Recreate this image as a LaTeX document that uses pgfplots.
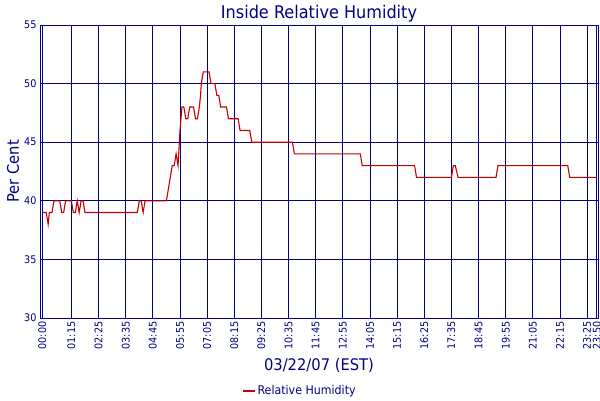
\documentclass[border=0pt]{standalone}
\usepackage{fontspec}
\setmainfont{DejaVu Sans}[FakeStretch=0.92]
\usepackage{pgfplots}
\pgfplotsset{compat=1.18}
\definecolor{navy}{RGB}{0,0,128}
\definecolor{rhred}{RGB}{196,0,0}

\begin{document}
\begin{tikzpicture}
\useasboundingbox (-40pt,-82pt) rectangle (560pt,318pt);
\begin{axis}[
    scale only axis,
    width=558pt, height=293pt,
    xmin=-6, xmax=1433,
    ymin=30, ymax=55,
    ytick={30,35,40,45,50,55},
    xtick={0,75,145,215,285,355,425,495,565,635,705,775,845,915,985,1055,1125,1195,1265,1335,1405,1430},
    xticklabels={00:00,01:15,02:25,03:35,04:45,05:55,07:05,08:15,09:25,10:35,11:45,12:55,14:05,15:15,16:25,17:35,18:45,19:55,21:05,22:15,23:25,23:50},
    grid=major,
    grid style={navy, line width=0.9pt},
    axis line style={navy, line width=0.9pt},
    major tick length=0pt,
    /pgf/number format/assume math mode=true,
    tick label style={font=\fontsize{10.5}{12}\selectfont, text=navy},
    xticklabel style={rotate=90, anchor=east},
    legend style={at={(axis description cs:0.466,-0.249)}, anchor=center,
        draw=none, fill=none, font=\fontsize{12}{14}\selectfont, text=navy},
    legend image code/.code={\draw[#1] (0pt,0pt) -- (12pt,0pt);},
]
\addplot[rhred, line width=1.1pt] coordinates {
(0,39) (10,39) (15,38) (18,39) (25,39) (30,40) (45,40) (50,39) (55,39) (60,40)
(75,40) (80,39) (85,39) (90,40) (95,39) (100,40) (105,40) (110,39) (245,39)
(250,40) (255,40) (260,39) (265,40) (320,40) (325,41) (330,42) (335,43) (340,43)
(345,44) (350,43) (355,46) (360,48) (365,48) (370,47) (375,47) (380,48) (390,48)
(395,47) (400,47) (405,48) (408,49) (410,50) (415,51) (430,51) (435,50) (445,50)
(450,49) (455,49) (460,48) (475,48) (480,47) (505,47) (510,46) (535,46) (540,45)
(645,45) (650,44) (820,44) (825,43) (960,43) (965,42) (1055,42) (1060,43)
(1065,43) (1072,42) (1170,42) (1175,43) (1355,43) (1360,42) (1430,42)
};
\addlegendentry{Relative Humidity}
\end{axis}
\node[anchor=base, text=navy, font=\fontsize{17.5}{21}\selectfont] at (279pt,300pt) {Inside Relative Humidity};
\node[anchor=base, text=navy, font=\fontsize{16}{19}\selectfont] at (279pt,-52pt) {03/22/07 (EST)};
\node[anchor=base, rotate=90, text=navy, font=\fontsize{16}{19}\selectfont] at (-21pt,146.5pt) {Per Cent};
\end{tikzpicture}
\end{document}
